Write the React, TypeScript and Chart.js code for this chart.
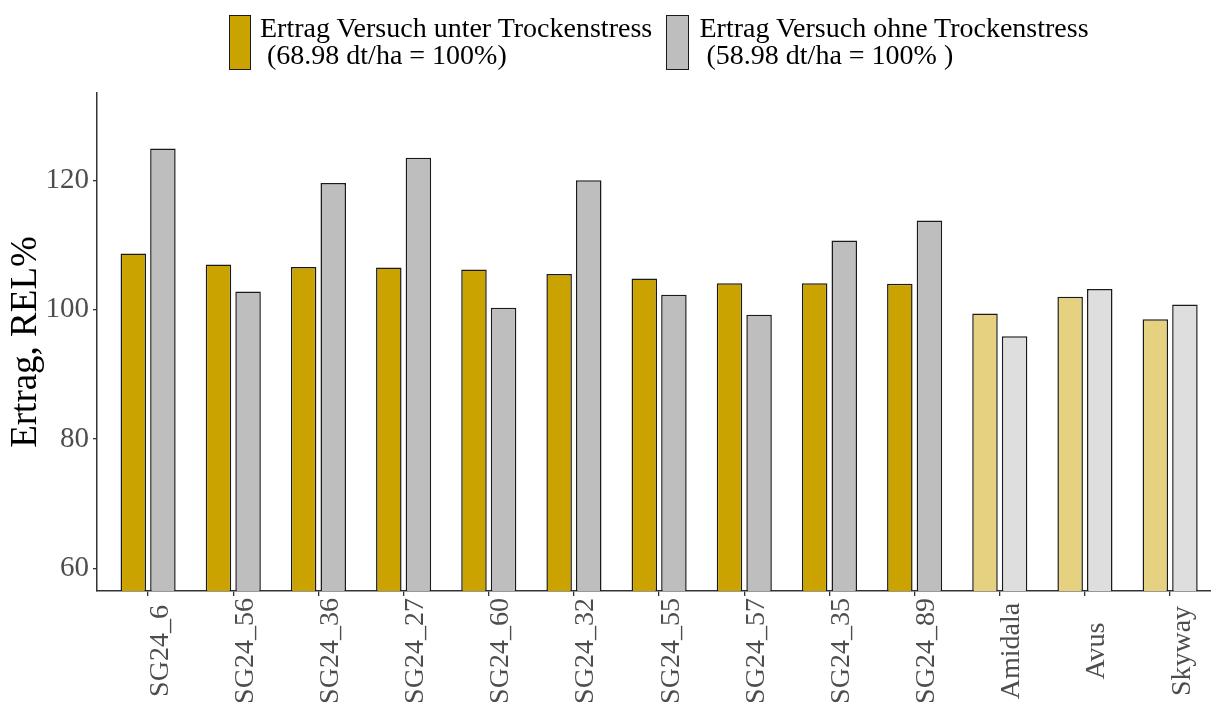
import React, { useEffect, useRef } from "react";
import { Chart, registerables } from "chart.js";

Chart.register(...registerables);

const categories = [
  "SG24_6", "SG24_56", "SG24_36", "SG24_27", "SG24_60", "SG24_32", "SG24_55",
  "SG24_57", "SG24_35", "SG24_89", "Amidala", "Avus", "Skyway",
];
const referenceVarieties = ["Amidala", "Avus", "Skyway"];
const stressValues = [108.7, 107.0, 106.6, 106.5, 106.2, 105.5, 104.8, 104.1, 104.1, 104.0, 99.4, 102.0, 98.5];
const noStressValues = [124.9, 102.8, 119.6, 123.5, 100.3, 120.0, 102.3, 99.2, 110.7, 113.8, 95.9, 103.2, 100.8];
const yTickValues = [60, 80, 100, 120];
const yTitle = "Ertrag, REL%";
const legendStress = ["Ertrag Versuch unter Trockenstress", " (68.98 dt/ha = 100%)"];
const legendNoStress = ["Ertrag Versuch ohne Trockenstress", " (58.98 dt/ha = 100% )"];

const GOLD = "#CBA300";
const GOLD_LIGHT = "#E5D17F";
const GRAY = "#BEBEBE";
const GRAY_LIGHT = "#DEDEDE";
const SERIF = '"Liberation Serif", "Times New Roman", serif';

const xLabelPlugin = {
  id: "rotatedXLabels",
  afterDraw(chart: any) {
    const ctx = chart.ctx;
    const xs = chart.scales.x;
    ctx.save();
    ctx.font = `28px ${SERIF}`;
    ctx.fillStyle = "#4D4D4D";
    ctx.textAlign = "center";
    ctx.textBaseline = "alphabetic";
    categories.forEach((c, i) => {
      const px = xs.getPixelForValue(i + 1);
      ctx.save();
      ctx.translate(px + 19.5, 651);
      ctx.rotate(-Math.PI / 2);
      ctx.fillText(c, 0, 0);
      ctx.restore();
    });
    ctx.restore();
  },
};

export default function App() {
  const ref = useRef<HTMLCanvasElement | null>(null);

  useEffect(() => {
    if (!ref.current) return;
    const isRef = categories.map((c) => referenceVarieties.includes(c));
    const chart = new Chart(ref.current, {
      type: "bar",
      data: {
        datasets: [
          {
            label: legendStress.join(""),
            data: stressValues.map((v, i) => ({ x: i + 1, y: v })),
            backgroundColor: isRef.map((r) => (r ? GOLD_LIGHT : GOLD)),
            borderColor: "#1a1a1a",
            borderWidth: 1.5,
          },
          {
            label: legendNoStress.join(""),
            data: noStressValues.map((v, i) => ({ x: i + 1, y: v })),
            backgroundColor: isRef.map((r) => (r ? GRAY_LIGHT : GRAY)),
            borderColor: "#1a1a1a",
            borderWidth: 1.5,
          },
        ],
      },
      options: {
        responsive: false,
        animation: false,
        categoryPercentage: 0.695,
        barPercentage: 0.862,
        layout: { padding: { top: 93, left: 0, right: 0, bottom: 0 } },
        plugins: { legend: { display: false }, tooltip: { enabled: false } },
        scales: {
          x: {
            type: "linear",
            min: 0.4,
            max: 13.48,
            offset: false,
            z: 1,
            afterBuildTicks: (s: any) => {
              s.ticks = categories.map((_, i) => ({ value: i + 1 }));
            },
            ticks: { display: false },
            grid: {
              display: true,
              offset: false,
              drawOnChartArea: false,
              drawTicks: true,
              tickLength: 5,
              color: "#333333",
              lineWidth: 1.3,
            },
            border: { display: true, color: "#333333", width: 1.5 },
            afterFit: (s: any) => {
              s.height = 111;
            },
          },
          y: {
            min: 56.5,
            max: 133.5,
            z: 1,
            afterBuildTicks: (s: any) => {
              s.ticks = yTickValues.map((v) => ({ value: v }));
            },
            ticks: {
              font: { family: SERIF, size: 29 },
              color: "#4D4D4D",
              padding: 4,
            },
            grid: {
              display: true,
              drawOnChartArea: false,
              drawTicks: true,
              tickLength: 4,
              color: "#333333",
              lineWidth: 1.3,
            },
            border: { display: true, color: "#333333", width: 1.5 },
            title: {
              display: true,
              text: yTitle,
              font: { family: SERIF, size: 37 },
              color: "#000000",
              padding: { top: 4, bottom: 0 },
            },
            afterFit: (s: any) => {
              s.width = 97;
            },
          },
        },
      } as any,
      plugins: [xLabelPlugin],
    });
    return () => chart.destroy();
  }, []);

  const square = (left: number, color: string) => (
    <div
      style={{
        position: "absolute",
        left,
        top: 15,
        width: 20.5,
        height: 53,
        background: color,
        border: "1.5px solid #1a1a1a",
      }}
    />
  );
  const text = (left: number, lines: string[]) => (
    <div
      style={{
        position: "absolute",
        left,
        top: 14,
        fontFamily: SERIF,
        fontSize: 28,
        lineHeight: "27px",
        whiteSpace: "pre",
        color: "#000",
      }}
    >
      {lines.map((l, i) => (
        <div key={i}>{l}</div>
      ))}
    </div>
  );

  return (
    <div
      style={{
        position: "absolute",
        left: 0,
        top: 0,
        width: 1211,
        height: 702,
        overflow: "hidden",
        background: "#fff",
      }}
    >
      <canvas ref={ref} width={1211} height={702} style={{ position: "absolute", left: 0, top: 0 }} />
      {square(228.5, GOLD)}
      {text(260, legendStress)}
      {square(666, GRAY)}
      {text(699.5, legendNoStress)}
    </div>
  );
}
